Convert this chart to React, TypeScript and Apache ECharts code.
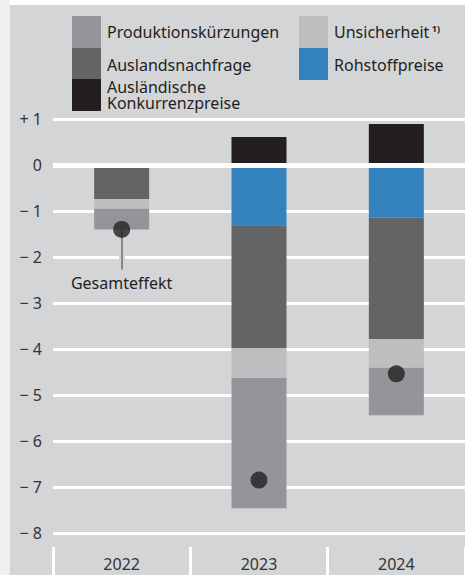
import React, { useEffect, useRef } from "react";
import * as echarts from "echarts";

const years = ["2022", "2023", "2024"];
const konkurrenzpreise = [0, 0.61, 0.89];
const rohstoffpreise = [0, -1.31, -1.14];
const auslandsnachfrage = [-0.74, -2.67, -2.64];
const unsicherheit = [-0.21, -0.65, -0.63];
const produktion = [-0.45, -2.83, -1.03];
const gesamteffekt = [-1.4, -6.85, -4.54];
const yTicks = { min: -8, max: 1, step: 1 };
const annotationEnd = -2.27;

const FONT = "Noto Sans";
const TEXT = "#231f20";
const BG = "#d4d5d7";
const FS = 16;

export default function App() {
  const ref = useRef<HTMLDivElement>(null);
  useEffect(() => {
    if (!ref.current) return;
    const chart = echarts.init(ref.current, null, { renderer: "svg" });
    const bar = (name: string, data: number[], color: string) => ({
      name,
      type: "bar",
      stack: "total",
      barWidth: 55,
      data,
      z: 2,
      itemStyle: { color },
      emphasis: { disabled: true },
    });
    const legendRect = (x: number, y: number, h: number, fill: string) => ({
      type: "rect",
      shape: { x, y, width: 29, height: h },
      style: { fill },
    });
    const legendText = (x: number, y: number, text: string, fs = FS) => ({
      type: "text",
      x,
      y,
      style: {
        text,
        fill: TEXT,
        fontFamily: FONT,
        fontSize: fs,
        lineHeight: 16,
        verticalAlign: "middle",
        align: "left",
      },
    });
    chart.setOption({
      animation: false,
      backgroundColor: BG,
      textStyle: { fontFamily: FONT },
      grid: { left: 53, right: 0, top: 119, bottom: 42, containLabel: false },
      xAxis: {
        type: "category",
        data: years,
        offset: 14,
        axisLine: { show: false, onZero: false },
        axisTick: { show: true, length: 28, lineStyle: { color: "#ffffff", width: 3 } },
        axisLabel: { color: "#333333", fontSize: FS, margin: 9, lineHeight: 16, fontFamily: FONT },
        splitLine: { show: false },
      },
      yAxis: {
        type: "value",
        min: yTicks.min,
        max: yTicks.max,
        interval: yTicks.step,
        axisLine: { show: false },
        axisTick: { show: false },
        splitLine: { show: true, lineStyle: { color: "#ffffff", width: 3 } },
        axisLabel: {
          color: "#333333",
          fontSize: FS,
          margin: 11,
          fontFamily: FONT,
          formatter: (v: number) => (v > 0 ? "+ " + v : v < 0 ? "\u2212 " + Math.abs(v) : "0"),
        },
      },
      graphic: [
        { type: "rect", shape: { x: 0, y: 0, width: 465, height: 5 }, style: { fill: "#ffffff" } },
        { type: "rect", shape: { x: 0, y: 0, width: 10, height: 575 }, style: { fill: "#efeff1" } },
        legendRect(72, 16, 32, "#939598"),
        legendRect(72, 48, 31, "#636466"),
        legendRect(72, 79, 32, "#231f20"),
        legendRect(299, 16, 32, "#bcbec0"),
        legendRect(299, 48, 32, "#3382bd"),
        legendText(107, 32, "Produktionskürzungen"),
        legendText(107, 64.5, "Auslandsnachfrage"),
        legendText(107, 86.5, "Ausländische"),
        legendText(107, 102.5, "Konkurrenzpreise"),
        {
          type: "text",
          x: 334,
          y: 32,
          style: {
            text: "{a|Unsicherheit}{s| 1)}",
            verticalAlign: "middle",
            align: "left",
            rich: {
              a: { fontFamily: FONT, fontSize: FS, fill: TEXT, color: TEXT },
              s: { fontFamily: FONT, fontSize: 9, fontWeight: "bold", fill: TEXT, color: TEXT, verticalAlign: "top", padding: [0, 0, 8, 0] },
            },
          },
        },
        legendText(334, 64.5, "Rohstoffpreise"),
      ],
      series: [
        bar("Ausländische Konkurrenzpreise", konkurrenzpreise, "#231f20"),
        bar("Rohstoffpreise", rohstoffpreise, "#3382bd"),
        bar("Auslandsnachfrage", auslandsnachfrage, "#636466"),
        bar("Unsicherheit", unsicherheit, "#bcbec0"),
        bar("Produktionskürzungen", produktion, "#939598"),
        {
          name: "Gesamteffekt",
          type: "scatter",
          data: gesamteffekt,
          symbol: "circle",
          symbolSize: 17,
          z: 5,
          itemStyle: { color: "#231f20" },
          emphasis: { disabled: true },
          markLine: {
            silent: true,
            symbol: "none",
            z: 4,
            data: [
              {
                yAxis: 0,
                lineStyle: { color: "#ffffff", width: 5, type: "solid" },
                label: { show: false },
              },
              [
                { coord: [0, gesamteffekt[0]], lineStyle: { color: BG, width: 6, type: "solid" }, label: { show: false } },
                { coord: [0, annotationEnd] },
              ],
              [
                {
                  coord: [0, gesamteffekt[0]],
                  lineStyle: { color: "#6d6e70", width: 1.5, type: "solid" },
                  label: {
                    show: true,
                    position: "end",
                    formatter: "Gesamteffekt",
                    color: TEXT,
                    fontSize: FS,
                    fontFamily: FONT,
                    distance: 6,
                  },
                },
                { coord: [0, annotationEnd] },
              ],
            ],
          },
        },
      ],
    });
    return () => chart.dispose();
  }, []);
  return (
    <div
      ref={ref}
      style={{ position: "fixed", left: 0, top: 0, width: 465, height: 575 }}
    />
  );
}
